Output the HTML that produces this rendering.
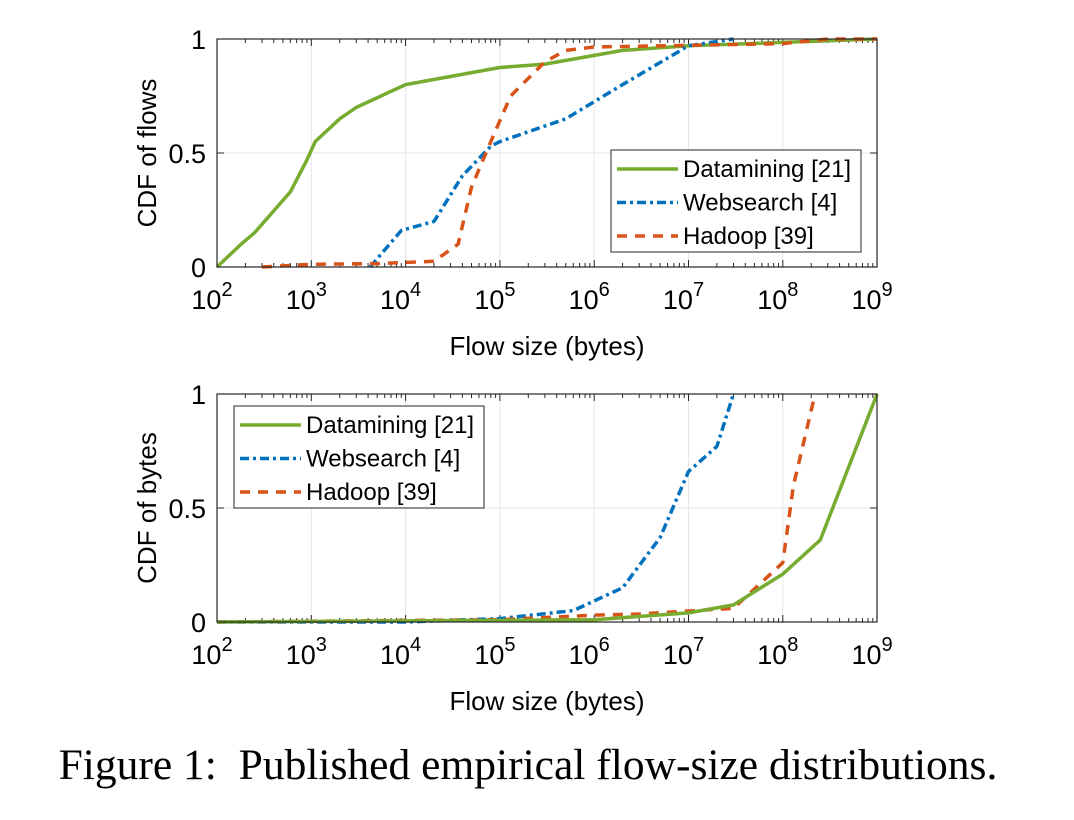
<!DOCTYPE html>
<html><head><meta charset="utf-8"><style>
body{margin:0;background:#fff;width:1074px;height:820px;overflow:hidden}
svg{display:block}
text{font-family:"Liberation Sans",sans-serif;fill:#000}
</style></head><body>
<svg id="s" width="1074" height="820" xmlns="http://www.w3.org/2000/svg"></svg>
<script>
const S=document.getElementById('s');let h='';
const X0=217,DEC=94.3;
const xm=v=>X0+DEC*(Math.log10(v)-2);
const G='#77ac30',B='#0072bd',R='#d95319';
function axes(top,ylab){
 const bot=top+228;
 for(let d=2;d<=9;d++){const x=X0+DEC*(d-2);h+=`<line x1="${x}" y1="${top}" x2="${x}" y2="${bot}" stroke="#e6e6e6" stroke-width="1"/>`;}
 [0,0.5,1].forEach(c=>{const y=bot-228*c;h+=`<line x1="${X0}" y1="${y}" x2="877" y2="${y}" stroke="#e6e6e6" stroke-width="1"/>`;});
 for(let d=2;d<9;d++){for(let k=1;k<10;k++){const x=X0+DEC*(d-2+Math.log10(k));const L=k==1?7:4;
  h+=`<line x1="${x}" y1="${bot}" x2="${x}" y2="${bot-L}" stroke="#262626"/><line x1="${x}" y1="${top}" x2="${x}" y2="${top+L}" stroke="#262626"/>`;}}
 [0,0.5,1].forEach(c=>{const y=bot-228*c;h+=`<line x1="${X0}" y1="${y}" x2="${X0+7}" y2="${y}" stroke="#262626"/><line x1="877" y1="${y}" x2="870" y2="${y}" stroke="#262626"/>`;
  h+=`<text x="${X0-11}" y="${y+10}" font-size="27" text-anchor="end">${c==0?'0':c==1?'1':'0.5'}</text>`;});
 for(let d=2;d<=9;d++){const x=X0+DEC*(d-2);h+=`<text x="${x-5}" y="${bot+42}" font-size="27" text-anchor="middle">10<tspan dy="-13" font-size="20">${d}</tspan></text>`;}
 h+=`<text x="547" y="${bot+88}" font-size="26" text-anchor="middle">Flow size (bytes)</text>`;
 h+=`<text transform="translate(156,${top+114}) rotate(-90)" font-size="26" text-anchor="middle">${ylab}</text>`;
 return bot;
}
function series(bot,pts,col,dash){
 const p=pts.map(([v,c])=>`${xm(v).toFixed(1)},${(bot-228*c).toFixed(1)}`).join(' ');
 h+=`<polyline points="${p}" fill="none" stroke="${col}" stroke-width="3.5" ${dash?`stroke-dasharray="${dash}"`:''} stroke-linejoin="round"/>`;
}
function legend(x,y){
 h+=`<rect x="${x}" y="${y}" width="250" height="102" fill="#fff" stroke="#262626" stroke-width="1"/>`;
 const items=[['Datamining [21]',G,''],['Websearch [4]',B,'9 4 3 4'],['Hadoop [39]',R,'10 8']];
 items.forEach((it,i)=>{const yy=y+19+i*33.5;
  h+=`<line x1="${x+6}" y1="${yy}" x2="${x+67}" y2="${yy}" stroke="${it[1]}" stroke-width="3.5" ${it[2]?`stroke-dasharray="${it[2]}"`:''}/>`;
  h+=`<text x="${x+72}" y="${yy+8}" font-size="24">${it[0]}</text>`;});
}
function frame(top){h+=`<rect x="${X0}" y="${top}" width="${877-X0}" height="228" fill="none" stroke="#262626" stroke-width="1.2"/>`;}
let b=axes(39,'CDF of flows');
series(b,[[100,0],[180,0.1],[250,0.15],[600,0.33],[900,0.47],[1100,0.55],[2000,0.65],[3000,0.7],[1e4,0.8],[1e5,0.875],[3e5,0.89],[2e6,0.95],[1e7,0.97],[1e9,1]],G,'');
series(b,[[4200,0],[9000,0.16],[20000,0.2],[40000,0.4],[80000,0.53],[1e5,0.55],[5e5,0.65],[2e6,0.8],[1e7,0.97],[3e7,1]],B,'9 4 3 4');
series(b,[[300,0],[1000,0.012],[5000,0.015],[20000,0.025],[36000,0.1],[50000,0.35],[80000,0.55],[1.3e5,0.75],[3e5,0.9],[5e5,0.95],[1e6,0.965],[1e8,0.98],[3e8,1],[1e9,1]],R,'10 8');
frame(39);legend(611,150);
b=axes(394,'CDF of bytes');
series(b,[[100,0],[1e4,0],[1e5,0.015],[6e5,0.05],[2e6,0.15],[5e6,0.37],[1e7,0.66],[2e7,0.77],[3e7,1]],B,'9 4 3 4');
series(b,[[100,0],[1e5,0.01],[1e6,0.03],[3e6,0.035],[3e7,0.06],[1e8,0.26],[1.3e8,0.6],[2.2e8,1]],R,'10 8');
series(b,[[100,0],[1e6,0.01],[1e7,0.04],[3e7,0.075],[1e8,0.21],[2.5e8,0.36],[1e9,1]],G,'');
frame(394);legend(234,406);
h+=`<text x="528" y="779" font-size="43.5" text-anchor="middle" xml:space="preserve" style="font-family:'Liberation Serif',serif">Figure 1:  Published empirical flow-size distributions.</text>`;
S.innerHTML=h;
</script>
</body></html>
